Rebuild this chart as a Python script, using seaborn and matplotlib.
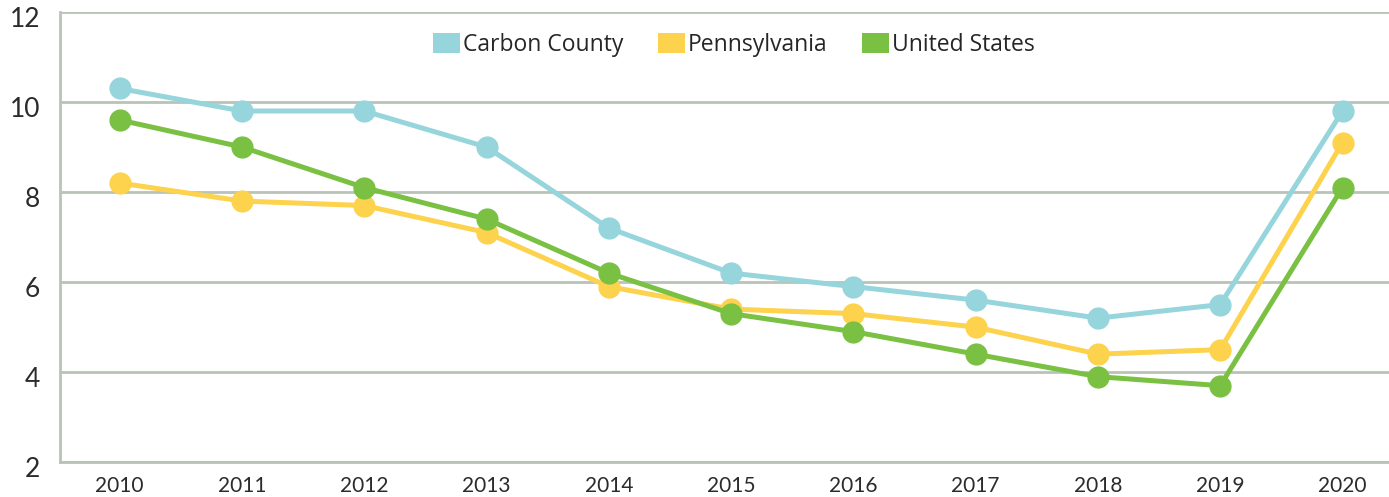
import pandas as pd
import matplotlib.pyplot as plt
import matplotlib.transforms as mtransforms
import seaborn as sns
from matplotlib.patches import Patch

years = ["2010", "2011", "2012", "2013", "2014", "2015", "2016", "2017", "2018", "2019", "2020"]
carbon = [10.3, 9.8, 9.8, 9.0, 7.2, 6.2, 5.9, 5.6, 5.2, 5.5, 9.8]
penn = [8.2, 7.8, 7.7, 7.1, 5.9, 5.4, 5.3, 5.0, 4.4, 4.5, 9.1]
us = [9.6, 9.0, 8.1, 7.4, 6.2, 5.3, 4.9, 4.4, 3.9, 3.7, 8.1]
series = ["Carbon County", "Pennsylvania", "United States"]
colors = ["#96D5DC", "#FDD24C", "#7AC143"]

df = pd.DataFrame({
    "year": years * 3,
    "rate": carbon + penn + us,
    "area": [s for s in series for _ in years],
})

sns.set_style("white")
plt.rcParams["font.family"] = ["Lato", "DejaVu Sans"]
grid_c = "#B9C3B8"

fig, ax = plt.subplots(figsize=(13.89, 4.97), dpi=100)
fig.subplots_adjust(left=0.043, right=1.0, top=0.976, bottom=0.07)

sns.lineplot(data=df, x="year", y="rate", hue="area", palette=colors,
             marker="o", markersize=16, markeredgewidth=0, linewidth=3.6,
             sort=False, legend=False, ax=ax)

ax.set_ylim(2, 12)
ax.set_yticks([2, 4, 6, 8, 10, 12])
ax.set_xlim(-0.49, 10.38)
ax.yaxis.grid(True, color=grid_c, linewidth=2)
ax.set_axisbelow(True)
for side in ["top", "right"]:
    ax.spines[side].set_visible(False)
for side in ["left", "bottom"]:
    ax.spines[side].set_color(grid_c)
    ax.spines[side].set_linewidth(2)
ax.tick_params(axis="y", length=0, pad=14, labelsize=19, labelcolor="#2b2b2b")
ax.tick_params(axis="x", direction="in", length=8, width=2, color=grid_c,
               pad=10, labelsize=15, labelcolor="#2b2b2b")
# y labels sit slightly below their gridlines in the original
shift = mtransforms.ScaledTranslation(0, -5 / 100, fig.dpi_scale_trans)
for lab in ax.get_yticklabels():
    lab.set_transform(lab.get_transform() + shift)
ax.set_xlabel("")
ax.set_ylabel("")

handles = [Patch(facecolor=c, edgecolor="none") for c in colors]
ax.legend(handles, series, loc="upper center", bbox_to_anchor=(0.507, 1.0),
          ncol=3, frameon=False, handlelength=1.2, handleheight=1.0,
          handletextpad=0.12, columnspacing=1.5,
          prop={"family": ["Open Sans", "DejaVu Sans"], "size": 16.5})

plt.savefig("out.png")
